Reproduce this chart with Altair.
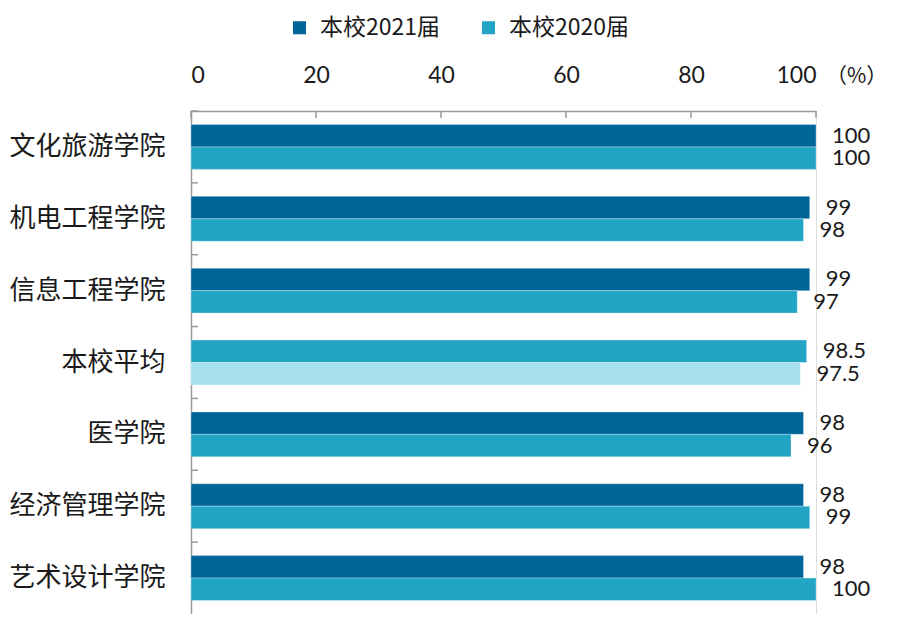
import altair as alt
import pandas as pd

categories = ["文化旅游学院", "机电工程学院", "信息工程学院", "本校平均", "医学院", "经济管理学院", "艺术设计学院"]
values_2021 = [100, 99, 99, 98.5, 98, 98, 98]
values_2020 = [100, 98, 97, 97.5, 96, 99, 100]
legend_names = ["本校2021届", "本校2020届"]
x_ticks = [0, 20, 40, 60, 80, 100]

DARK = "#00669A"
MID = "#22A5C5"
LIGHT = "#A6E0EE"

rows = []
for c, a, b in zip(categories, values_2021, values_2020):
    if c == "本校平均":
        ka, kb = "本校2020届", "平均2020"
    else:
        ka, kb = "本校2021届", "本校2020届"
    rows.append({"cat": c, "series": "2021", "ckey": ka, "value": a, "label": f"{a:g}"})
    rows.append({"cat": c, "series": "2020", "ckey": kb, "value": b, "label": f"{b:g}"})
df = pd.DataFrame(rows)

W, H = 625, 503
CJK = "Noto Sans CJK SC"
NUM = "Lato"

x_scale = alt.Scale(domain=[0, 100], nice=False, zero=True)
y_enc = alt.Y("cat:N", sort=categories,
              scale=alt.Scale(paddingInner=0, paddingOuter=0),
              axis=alt.Axis(title=None, orient="left", tickSize=0, labelPadding=26,
                            labelFont=CJK, labelFontSize=26, labelColor="#1a1a1a",
                            domainColor="#9a9a9a", domainWidth=1.5, labelAngle=0))
yoff = alt.YOffset("series:N", sort=["2021", "2020"],
                   scale=alt.Scale(paddingInner=0, paddingOuter=0.6))

bars = alt.Chart(df).mark_bar(stroke="#ffffff", strokeWidth=0.6, strokeOpacity=0.5).encode(
    x=alt.X("value:Q", scale=x_scale,
            axis=alt.Axis(title=None, orient="top", values=x_ticks, tickSize=0, labelPadding=24,
                          labelFont=NUM, labelFontSize=23, labelColor="#1a1a1a",
                          domainColor="#9a9a9a", domainWidth=1.5, grid=False)),
    y=y_enc,
    yOffset=yoff,
    color=alt.Color("ckey:N",
                    scale=alt.Scale(domain=["本校2021届", "本校2020届", "平均2020"], range=[DARK, MID, LIGHT]),
                    legend=alt.Legend(title=None, values=legend_names, orient="none", direction="horizontal",
                                      legendX=97, legendY=-95, symbolType="square", symbolSize=170,
                                      symbolStrokeWidth=0, labelFont=CJK, labelFontSize=23,
                                      labelColor="#1a1a1a", columnPadding=36, labelOffset=9)),
)

texts = alt.Chart(df).mark_text(align="left", baseline="middle", dx=16, font=NUM, fontSize=22,
                                color="#1a1a1a").encode(
    x=alt.X("value:Q", scale=x_scale),
    y=alt.Y("cat:N", sort=categories),
    yOffset=yoff,
    text="label:N",
)

xt = pd.DataFrame({"t": x_ticks})
xrules = alt.Chart(xt).mark_rule(color="#9a9a9a", strokeWidth=1.5).encode(
    x=alt.X("t:Q", scale=x_scale), y=alt.value(0), y2=alt.value(7))

yt = pd.DataFrame({"cat": categories})
yrules = alt.Chart(yt).mark_rule(color="#9a9a9a", strokeWidth=1.5).encode(
    y=alt.Y("cat:N", sort=categories, bandPosition=0), x=alt.value(0), x2=alt.value(7))

pct = alt.Chart(pd.DataFrame({"s": ["（%）"]})).mark_text(
    align="left", baseline="middle", font=CJK, fontSize=21, color="#1a1a1a").encode(
    x=alt.value(W + 10), y=alt.value(-34), text="s:N")

chart = alt.layer(bars, texts, xrules, yrules, pct).properties(
    width=W, height=H, padding={"left": 0, "top": 8, "right": 5, "bottom": 0}
).configure_view(stroke=None).configure(font=CJK)

chart.save("out.html", embed_options={"renderer": "svg", "actions": False})
